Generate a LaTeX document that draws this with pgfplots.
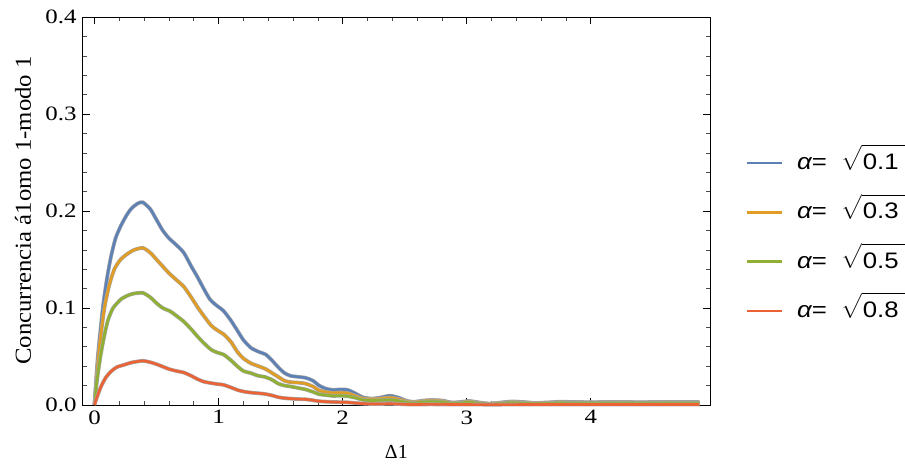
\RequirePackage{fix-cm}
\documentclass[border=0pt]{standalone}
\usepackage{amsmath}
\usepackage{fontspec}
\setmainfont{Liberation Serif}
\newfontfamily\lsans[FakeStretch=1.15]{Liberation Sans}
\newfontfamily\tickfont[FakeStretch=1.22]{Liberation Serif}
\newfontfamily\labfont[FakeStretch=1.08]{Liberation Serif}
\usepackage{pgfplots}
\usepackage{pgfplotstable}
\pgfplotsset{compat=1.18}

\definecolor{mblue}{HTML}{5E81B5}
\definecolor{morange}{HTML}{E19C24}
\definecolor{mgreen}{HTML}{8FB032}
\definecolor{mred}{HTML}{EB6235}

\pgfplotstableread{
x y
0 0
0.027 0.05
0.067 0.10
0.10 0.13
0.133 0.153
0.17 0.172
0.213 0.185
0.26 0.196
0.30 0.203
0.35 0.208
0.39 0.209
0.45 0.202
0.50 0.191
0.55 0.180
0.60 0.172
0.66 0.165
0.72 0.157
0.78 0.143
0.83 0.132
0.88 0.120
0.93 0.109
0.98 0.103
1.04 0.097
1.10 0.087
1.15 0.077
1.20 0.067
1.26 0.059
1.32 0.055
1.38 0.052
1.43 0.046
1.48 0.039
1.53 0.033
1.58 0.030
1.64 0.029
1.70 0.028
1.76 0.025
1.81 0.020
1.86 0.017
1.92 0.0155
1.98 0.0160
2.04 0.0155
2.10 0.012
2.16 0.008
2.23 0.0065
2.30 0.0075
2.38 0.0095
2.45 0.0075
2.52 0.004
2.58 0.0032
2.65 0.0045
2.72 0.005
2.80 0.0045
2.88 0.0025
2.95 0.003
3.02 0.004
3.10 0.0025
3.18 0.0012
3.26 0.0022
3.36 0.0035
3.45 0.003
3.55 0.002
3.65 0.0025
3.75 0.0032
3.85 0.003
4.0 0.0028
4.2 0.003
4.4 0.0028
4.6 0.003
4.875 0.003
}\tblue

\pgfplotstableread{
x y
0 0
0.02 0.032
0.04 0.060
0.08 0.100
0.12 0.124
0.16 0.140
0.21 0.150
0.267 0.156
0.32 0.160
0.39 0.162
0.45 0.157
0.50 0.150
0.55 0.143
0.60 0.136
0.66 0.129
0.72 0.122
0.78 0.111
0.83 0.101
0.88 0.092
0.94 0.082
0.99 0.077
1.04 0.073
1.10 0.065
1.15 0.055
1.20 0.048
1.26 0.043
1.32 0.040
1.38 0.037
1.43 0.033
1.48 0.029
1.53 0.025
1.58 0.0235
1.64 0.023
1.70 0.022
1.76 0.019
1.81 0.015
1.86 0.0135
1.92 0.0125
1.98 0.0127
2.04 0.0122
2.10 0.0095
2.16 0.0068
2.23 0.006
2.30 0.0065
2.38 0.0076
2.45 0.006
2.52 0.0035
2.58 0.003
2.65 0.004
2.72 0.0045
2.80 0.004
2.88 0.0022
2.95 0.0025
3.02 0.0035
3.10 0.0022
3.18 0.0012
3.26 0.002
3.36 0.003
3.45 0.0026
3.55 0.0018
3.65 0.0022
3.75 0.0028
3.85 0.0026
4.0 0.0025
4.2 0.0027
4.4 0.0025
4.6 0.0027
4.875 0.0026
}\torange

\pgfplotstableread{
x y
0 0
0.02 0.025
0.048 0.050
0.08 0.072
0.11 0.088
0.15 0.100
0.213 0.109
0.27 0.113
0.32 0.115
0.39 0.1156
0.45 0.111
0.50 0.105
0.55 0.100
0.61 0.0966
0.66 0.092
0.72 0.086
0.78 0.078
0.83 0.0707
0.88 0.064
0.94 0.057
0.99 0.054
1.04 0.052
1.10 0.046
1.15 0.040
1.20 0.035
1.26 0.0328
1.32 0.030
1.37 0.029
1.43 0.026
1.48 0.022
1.53 0.020
1.58 0.019
1.64 0.0175
1.70 0.016
1.76 0.0135
1.81 0.011
1.86 0.0102
1.92 0.0093
1.98 0.0095
2.04 0.009
2.10 0.0075
2.16 0.0053
2.23 0.0045
2.30 0.0048
2.38 0.0052
2.45 0.0042
2.52 0.0025
2.58 0.002
2.65 0.003
2.72 0.0034
2.80 0.003
2.88 0.0018
2.95 0.002
3.02 0.0028
3.10 0.0018
3.18 0.001
3.26 0.0016
3.36 0.0024
3.45 0.002
3.55 0.0015
3.65 0.0018
3.75 0.0022
3.85 0.002
4.0 0.002
4.2 0.0021
4.4 0.002
4.6 0.0021
4.875 0.002
}\tgreen

\pgfplotstableread{
x y
0 0
0.02 0.008
0.053 0.019
0.09 0.028
0.133 0.0345
0.18 0.039
0.24 0.0414
0.30 0.0438
0.39 0.0455
0.45 0.044
0.50 0.042
0.55 0.0395
0.60 0.037
0.66 0.035
0.72 0.0334
0.78 0.030
0.83 0.0266
0.88 0.024
0.94 0.0225
0.99 0.0215
1.04 0.0207
1.10 0.018
1.15 0.0155
1.20 0.0138
1.26 0.0127
1.32 0.012
1.37 0.0114
1.43 0.0098
1.48 0.008
1.53 0.007
1.58 0.0065
1.64 0.006
1.70 0.0058
1.76 0.0048
1.81 0.0038
1.86 0.0034
1.92 0.003
1.98 0.0028
2.04 0.0026
2.10 0.002
2.16 0.0014
2.23 0.001
2.30 0.001
2.38 0.0012
2.45 0.0009
2.52 0.0005
2.6 0.0004
2.7 0.0006
2.8 0.0005
3.0 0.0004
3.2 0.0003
3.5 0.0004
4.0 0.0004
4.5 0.0004
4.875 0.0004
}\tred

\newcommand{\leg}[1]{{\itshape α}=\ \ $\sqrt{\text{\lsans\rule{0pt}{0.98em}\kern1bp #1\kern9bp}}$}

\begin{document}
\begin{tikzpicture}
\begin{axis}[
  at={(0,0)}, anchor=south west,
  scale only axis, width=627.3bp, height=388bp,
  xmin=-0.095, xmax=4.96, ymin=-0.0004, ymax=0.4,
  xtick={0,1,2,3,4}, ytick={0,0.1,0.2,0.3,0.4},
  minor x tick num=4, minor y tick num=4,
  tick pos=both, tick align=inside,
  major tick length=7bp, minor tick length=4bp,
  axis line style={line width=0.9bp, black},
  major tick style={line width=0.8bp, black},
  minor tick style={line width=0.7bp, black!70},
  /pgf/number format/assume math mode=true,
  y tick label style={/pgf/number format/fixed, /pgf/number format/fixed zerofill, /pgf/number format/precision=1},
  tick label style={font=\tickfont\fontsize{20.5}{24}\selectfont},
  yticklabel style={inner sep=0pt, anchor=east, xshift=-6bp},
  xticklabel style={inner sep=0pt, anchor=north, yshift=-5bp},
  xlabel={Δ1},
  xlabel style={at={(axis description cs:0.5,0)}, anchor=center, yshift=-46.7bp, font=\fontsize{20}{24}\selectfont},
  ylabel={Concurrencia á1omo 1-modo 1},
  ylabel style={at={(axis description cs:0,0.1039)}, anchor=west, inner sep=0pt, yshift=59.7bp, font=\labfont\fontsize{23}{27}\selectfont},
  clip=false,
  legend cell align=left,
  legend image code/.code={\draw[#1, line width=2.6bp] (0bp,0bp) -- (35bp,0bp);},
  legend style={at={(1,0.4338)}, anchor=west, xshift=35.3bp, draw=none, fill=none,
    inner sep=0pt, row sep=24.3bp, column sep=14bp,
    font=\lsans\fontsize{22.5}{26}\selectfont,
    nodes={inner sep=0pt, text height=19bp, text depth=6bp}},
]
\addplot[forget plot, smooth, tension=0.4, line width=3.8bp, black!35] table {\tblue};
\addplot[smooth, tension=0.4, line width=2.6bp, mblue] table {\tblue};
\addlegendentry{\leg{0.1}}
\addplot[forget plot, smooth, tension=0.4, line width=3.8bp, black!35] table {\torange};
\addplot[smooth, tension=0.4, line width=2.6bp, morange] table {\torange};
\addlegendentry{\leg{0.3}}
\addplot[forget plot, smooth, tension=0.4, line width=3.8bp, black!35] table {\tgreen};
\addplot[smooth, tension=0.4, line width=2.6bp, mgreen] table {\tgreen};
\addlegendentry{\leg{0.5}}
\addplot[forget plot, smooth, tension=0.4, line width=3.8bp, black!35] table {\tred};
\addplot[smooth, tension=0.4, line width=2.6bp, mred] table {\tred};
\addlegendentry{\leg{0.8}}
\end{axis}
\pgfresetboundingbox
\useasboundingbox (-82.7bp,-63.7bp) rectangle (822.3bp,405.3bp);
\end{tikzpicture}
\end{document}
